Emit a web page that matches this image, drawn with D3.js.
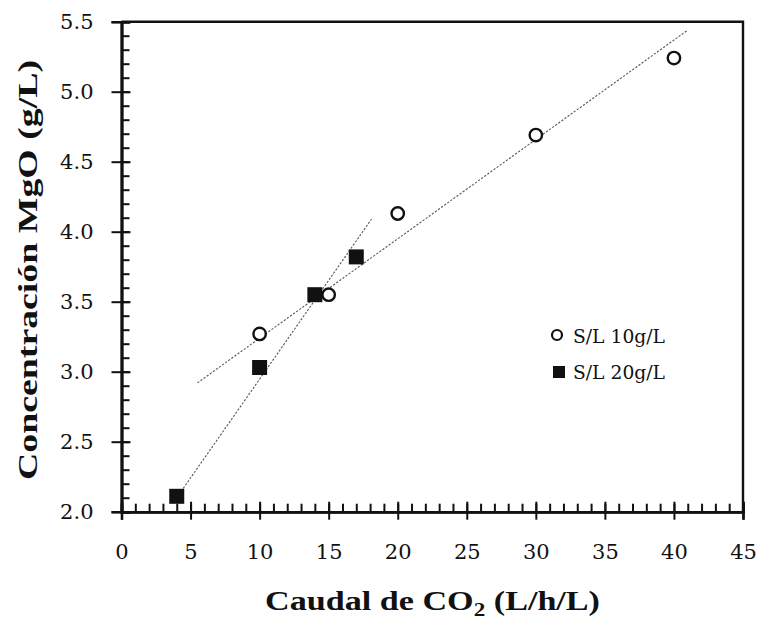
<!DOCTYPE html>
<html>
<head>
<meta charset="utf-8">
<script src="https://cdn.jsdelivr.net/npm/d3@7"></script>
<style>
  html, body { margin: 0; padding: 0; background: #fff; }
  svg { display: block; }
  text { font-family: "DejaVu Serif", "Liberation Serif", serif; fill: #111; }
</style>
</head>
<body>
<svg id="chart" width="760" height="628"></svg>
<script>
// CO2 flow (L/h/L) and MgO concentration (g/L) for two solid/liquid ratios
const flow10 = [10, 15, 20, 30, 40];
const mgo10  = [3.27, 3.55, 4.13, 4.69, 5.24];
const flow20 = [4, 10, 14, 17];
const mgo20  = [2.11, 3.03, 3.55, 3.82];

// Trend lines, given by their end points (flow, concentration)
const trend10X = [5.5, 41.0];
const trend10Y = [2.92, 5.44];
const trend20X = [4.0, 18.1];
const trend20Y = [2.10, 4.09];

const xMajorTicks = [0, 5, 10, 15, 20, 25, 30, 35, 40, 45];
const yMajorTicks = [2.0, 2.5, 3.0, 3.5, 4.0, 4.5, 5.0, 5.5];
const legendLabels = ["S/L 10g/L", "S/L 20g/L"];

const svg = d3.select("#chart");
const plotL = 121.5, plotR = 743, plotT = 21.7, plotB = 511.7;
const serif = "'DejaVu Serif', 'Liberation Serif', serif";
const titleFont = "'Liberation Serif', 'DejaVu Serif', serif";

const x = d3.scaleLinear().domain([0, 45]).range([plotL, plotR]);
const y = d3.scaleLinear().domain([2, 5.5]).range([plotB, plotT]);

// frame: top and right edges
svg.append("path")
  .attr("d", `M${plotL},${plotT}H${plotR}V${plotB}`)
  .attr("fill", "none").attr("stroke", "#111").attr("stroke-width", 2.4);

// x axis: minor ticks pointing into the plot, major ticks crossing with labels
svg.append("g").attr("transform", `translate(0,${plotB})`)
  .call(d3.axisTop(x).tickValues(d3.range(0, 46, 1)).tickSize(8).tickFormat(""));
svg.append("g").attr("transform", `translate(0,${plotB})`)
  .call(d3.axisBottom(x).tickValues(xMajorTicks).tickSize(8).tickPadding(24)
    .tickFormat(d3.format("d")));
svg.append("g").attr("transform", `translate(0,${plotB})`)
  .call(d3.axisTop(x).tickValues(xMajorTicks).tickSize(10).tickFormat(""));

// y axis: minor ticks pointing into the plot, major ticks crossing with labels
svg.append("g").attr("transform", `translate(${plotL},0)`)
  .call(d3.axisRight(y).tickValues(d3.range(20, 56, 1).map(v => v / 10)).tickSize(8).tickFormat(""));
svg.append("g").attr("transform", `translate(${plotL},0)`)
  .call(d3.axisLeft(y).tickValues(yMajorTicks).tickSize(10).tickPadding(18)
    .tickFormat(d3.format(".1f")));
svg.append("g").attr("transform", `translate(${plotL},0)`)
  .call(d3.axisRight(y).tickValues(yMajorTicks).tickSize(9).tickFormat(""));

svg.selectAll(".domain").attr("stroke", "#111").attr("stroke-width", 2.6);
svg.selectAll(".tick line").attr("stroke", "#111").attr("stroke-width", 2);
svg.selectAll(".tick text")
  .style("font-family", serif)
  .style("font-size", "21px").attr("fill", "#222");

// trend lines
const line = d3.line().x(d => x(d[0])).y(d => y(d[1]));
[[trend10X, trend10Y], [trend20X, trend20Y]].forEach(([xs, ys]) => {
  svg.append("path")
    .datum(xs.map((v, i) => [v, ys[i]]))
    .attr("d", line)
    .attr("fill", "none")
    .attr("stroke", "#555")
    .attr("stroke-width", 1.1)
    .attr("stroke-dasharray", "2.2,1.6");
});

// S/L 20 g/L: filled squares
const sq = 15;
svg.append("g").selectAll("rect")
  .data(flow20.map((v, i) => [v, mgo20[i]]))
  .join("rect")
  .attr("x", d => x(d[0]) - sq / 2)
  .attr("y", d => y(d[1]) - sq / 2)
  .attr("width", sq).attr("height", sq)
  .attr("fill", "#111");

// S/L 10 g/L: open circles
svg.append("g").selectAll("circle")
  .data(flow10.map((v, i) => [v, mgo10[i]]))
  .join("circle")
  .attr("cx", d => x(d[0]))
  .attr("cy", d => y(d[1]))
  .attr("r", 6.2)
  .attr("fill", "#fff")
  .attr("stroke", "#111")
  .attr("stroke-width", 2.4);

// legend
const lg = svg.append("g");
lg.append("circle").attr("cx", 557).attr("cy", 335).attr("r", 5)
  .attr("fill", "#fff").attr("stroke", "#111").attr("stroke-width", 2.2);
lg.append("rect").attr("x", 553).attr("y", 366).attr("width", 12).attr("height", 12)
  .attr("fill", "#111");
lg.selectAll("text").data(legendLabels).join("text")
  .attr("x", 573)
  .attr("y", (d, i) => 343 + i * 36)
  .style("font-size", "19px")
  .attr("textLength", 92)
  .attr("lengthAdjust", "spacingAndGlyphs")
  .text(d => d);

// axis titles
const xt = svg.append("text")
  .attr("x", 265)
  .attr("y", 610)
  .attr("textLength", 335)
  .attr("lengthAdjust", "spacingAndGlyphs")
  .style("font-family", titleFont)
  .style("font-size", "28px").style("font-weight", "bold");
xt.append("tspan").text("Caudal de CO");
xt.append("tspan").attr("dy", 6).style("font-size", "19px").text("2");
xt.append("tspan").attr("dy", -6).text(" (L/h/L)");

svg.append("text")
  .attr("transform", "translate(37,480) rotate(-90)")
  .attr("textLength", 420)
  .attr("lengthAdjust", "spacingAndGlyphs")
  .style("font-family", titleFont)
  .style("font-size", "28px").style("font-weight", "bold")
  .text("Concentración MgO (g/L)");
</script>
</body>
</html>
